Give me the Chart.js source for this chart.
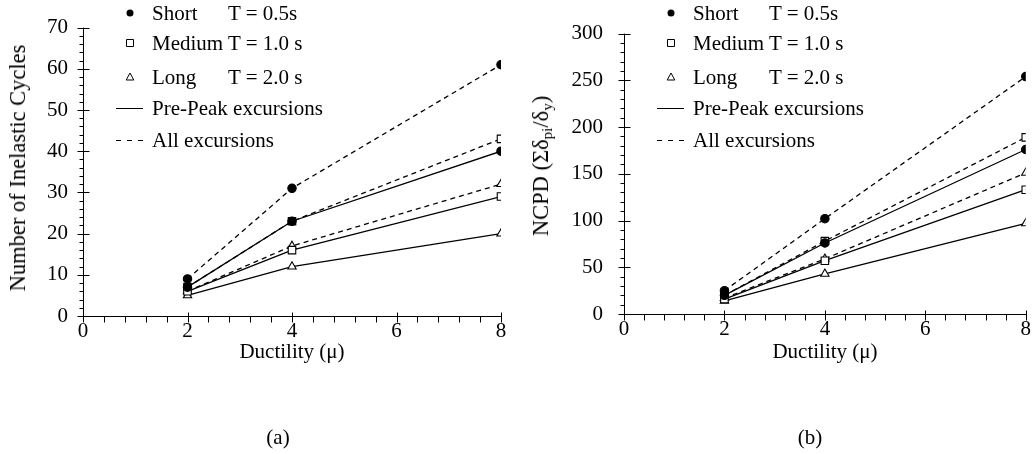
<!DOCTYPE html>
<html>
<head>
<meta charset="utf-8">
<script src="https://cdn.jsdelivr.net/npm/chart.js@4/dist/chart.umd.min.js"></script>
<style>
  body { margin: 0; background: #fff; }
  #wrap { position: relative; width: 1034px; height: 454px; font-family: "Liberation Serif", "Times New Roman", serif; color: #000; }
  canvas { position: absolute; top: 0; }
  .txt { position: absolute; font-size: 21px; line-height: 24px; white-space: nowrap; }
  .ytitle { position: absolute; font-size: 22.5px; line-height: 24px; white-space: nowrap; transform: translate(-50%, -50%) rotate(-90deg); }
  .ctr { transform: translateX(-50%); }
  sub { font-size: 15px; vertical-align: -4px; line-height: 0; }
</style>
</head>
<body>
<div id="wrap">
  <canvas id="chartA" width="517" height="360" style="left:0"></canvas>
  <canvas id="chartB" width="517" height="360" style="left:517px"></canvas>

  <div class="ytitle" style="left:18px; top:168px">Number of Inelastic Cycles</div>
  <div class="ytitle" style="left:541px; top:166px">NCPD (Σδ<sub>pi</sub>/δ<sub>y</sub>)</div>
  <div class="txt ctr" style="left:292px; top:339px">Ductility (μ)</div>
  <div class="txt ctr" style="left:825px; top:339px">Ductility (μ)</div>
  <div class="txt ctr" style="left:278px; top:425px">(a)</div>
  <div class="txt ctr" style="left:810px; top:425px">(b)</div>
  <div id="legA"></div>
  <div id="legB"></div>
</div>

<script>
// x values (ductility)
var ductility = [2, 4, 8];

// (a) number of inelastic cycles
var cyclesShortPre  = [7, 23, 40];
var cyclesShortAll  = [9, 31, 61];
var cyclesMediumPre = [6, 16, 29];
var cyclesMediumAll = [7, 23, 43];
var cyclesLongPre   = [5, 12, 20];
var cyclesLongAll   = [6, 17, 32];

// (b) NCPD
var ncpdShortPre  = [20, 76, 176];
var ncpdShortAll  = [25, 102, 254];
var ncpdMediumPre = [16, 57, 133];
var ncpdMediumAll = [20, 78, 189];
var ncpdLongPre   = [14, 43, 97];
var ncpdLongAll   = [17, 59, 151];

var legendNames = ["Short", "Medium", "Long", "Pre-Peak excursions", "All excursions"];
var legendPeriods = ["T = 0.5s", "T = 1.0 s", "T = 2.0 s", "", ""];
var legendRows = [13, 43, 77, 108, 140];

function pts(ys) {
  return ductility.map(function (d, i) { return { x: d, y: ys[i] }; });
}

function ds(ys, style, dashed) {
  var fill = style === 'circle' ? '#000' : '#fff';
  return {
    data: pts(ys),
    borderColor: '#000',
    borderWidth: 1.3,
    borderDash: dashed ? [5, 4] : [],
    pointStyle: style,
    pointRadius: style === 'circle' ? 4.2 : (style === 'rect' ? 5.3 : 4.8),
    pointBorderWidth: 1.1,
    pointBorderColor: '#000',
    pointBackgroundColor: fill,
    tension: 0
  };
}

function marker(ctx, style, x, y) {
  ctx.beginPath();
  if (style === 'circle') {
    ctx.arc(x, y, 3.5, 0, Math.PI * 2);
    ctx.fillStyle = '#000';
    ctx.fill();
  } else if (style === 'rect') {
    ctx.rect(x - 3.5, y - 3.5, 7, 7);
    ctx.fillStyle = '#fff';
    ctx.fill();
    ctx.stroke();
  } else {
    ctx.moveTo(x, y - 4);
    ctx.lineTo(x + 3.8, y + 3);
    ctx.lineTo(x - 3.8, y + 3);
    ctx.closePath();
    ctx.stroke();
  }
}

// axes with crossing major ticks, outward minor ticks, plus legend symbols
var axisTicks = {
  id: 'axisTicks',
  afterDraw: function (chart, args, opts) {
    var ctx = chart.ctx, xs = chart.scales.x, ys = chart.scales.y, a = chart.chartArea;
    ctx.save();
    ctx.strokeStyle = '#000';
    ctx.lineWidth = 1;
    ctx.setLineDash([]);
    ctx.beginPath();
    var ax = Math.round(a.left) + 0.5, ay = Math.round(a.bottom) + 0.5;
    ctx.moveTo(ax, a.top);
    ctx.lineTo(ax, ay);
    ctx.lineTo(Math.round(a.right) + 0.5, ay);
    var i, v, p, major;
    for (i = 0; i <= Math.round(xs.max / opts.xMinor); i++) {
      v = i * opts.xMinor;
      p = Math.round(xs.getPixelForValue(v)) + 0.5;
      major = Math.abs(v / opts.xMajor - Math.round(v / opts.xMajor)) < 1e-6;
      ctx.moveTo(p, ay - (major ? 4 : 0));
      ctx.lineTo(p, ay + 6);
    }
    for (i = 0; i <= Math.round(ys.max / opts.yMinor); i++) {
      v = i * opts.yMinor;
      p = Math.round(ys.getPixelForValue(v)) + 0.5;
      major = Math.abs(v / opts.yMajor - Math.round(v / opts.yMajor)) < 1e-6;
      ctx.moveTo(ax - (major ? 6 : 4), p);
      ctx.lineTo(ax + (major ? 6 : 0), p);
    }
    ctx.stroke();

    // legend symbols
    var sx = a.left + 47;
    marker(ctx, 'circle', sx, legendRows[0]);
    marker(ctx, 'rect', sx, legendRows[1]);
    marker(ctx, 'triangle', sx, legendRows[2]);
    ctx.beginPath();
    ctx.moveTo(a.left + 33, legendRows[3] + 0.5);
    ctx.lineTo(a.left + 60, legendRows[3] + 0.5);
    ctx.stroke();
    ctx.setLineDash([5, 6]);
    ctx.beginPath();
    ctx.moveTo(a.left + 33, legendRows[4] + 0.5);
    ctx.lineTo(a.left + 61, legendRows[4] + 0.5);
    ctx.stroke();
    ctx.restore();
  }
};

function makeChart(id, series, yMax, yStep, yMinor, plotLeft, xHeight, padRight, labelPad) {
  return new Chart(document.getElementById(id), {
    type: 'line',
    data: {
      datasets: [
        ds(series[0], 'circle', false),
        ds(series[1], 'circle', true),
        ds(series[2], 'rect', false),
        ds(series[3], 'rect', true),
        ds(series[4], 'triangle', false),
        ds(series[5], 'triangle', true)
      ]
    },
    options: {
      responsive: false,
      animation: false,
      layout: { padding: { top: 18, right: padRight, left: 0, bottom: 0 } },
      plugins: {
        legend: { display: false },
        tooltip: { enabled: false },
        axisTicks: { xMinor: 0.4, xMajor: 2, yMinor: yMinor, yMajor: yStep }
      },
      scales: {
        x: {
          type: 'linear',
          min: 0,
          max: 8,
          grid: { display: false, drawTicks: false },
          border: { display: false },
          ticks: { stepSize: 2, padding: 3, color: '#000', maxRotation: 0,
                   font: { family: 'Liberation Serif', size: 21 } },
          afterFit: function (s) { s.height = xHeight; }
        },
        y: {
          min: 0,
          max: yMax,
          grid: { display: false, drawTicks: false },
          border: { display: false },
          ticks: { stepSize: yStep, padding: labelPad, color: '#000',
                   font: { family: 'Liberation Serif', size: 21 } },
          afterFit: function (s) { s.width = plotLeft; }
        }
      }
    },
    plugins: [axisTicks]
  });
}

var chartA = makeChart('chartA',
  [cyclesShortPre, cyclesShortAll, cyclesMediumPre, cyclesMediumAll, cyclesLongPre, cyclesLongAll],
  70, 10, 2, 83, 44, 16, 15);
var chartB = makeChart('chartB',
  [ncpdShortPre, ncpdShortAll, ncpdMediumPre, ncpdMediumAll, ncpdLongPre, ncpdLongAll],
  300, 50, 10, 107, 46, 8, 21);

function buildLegend(elId, chart, offsetX) {
  var el = document.getElementById(elId);
  var left = offsetX + chart.chartArea.left;
  var html = '';
  for (var i = 0; i < legendNames.length; i++) {
    var top = legendRows[i] - 12;
    html += '<div class="txt" style="left:' + (left + 69) + 'px; top:' + top + 'px">' + legendNames[i] + '</div>';
    if (legendPeriods[i]) {
      html += '<div class="txt" style="left:' + (left + 145) + 'px; top:' + top + 'px">' + legendPeriods[i] + '</div>';
    }
  }
  el.innerHTML = html;
}
buildLegend('legA', chartA, 0);
buildLegend('legB', chartB, 517);
</script>
</body>
</html>
